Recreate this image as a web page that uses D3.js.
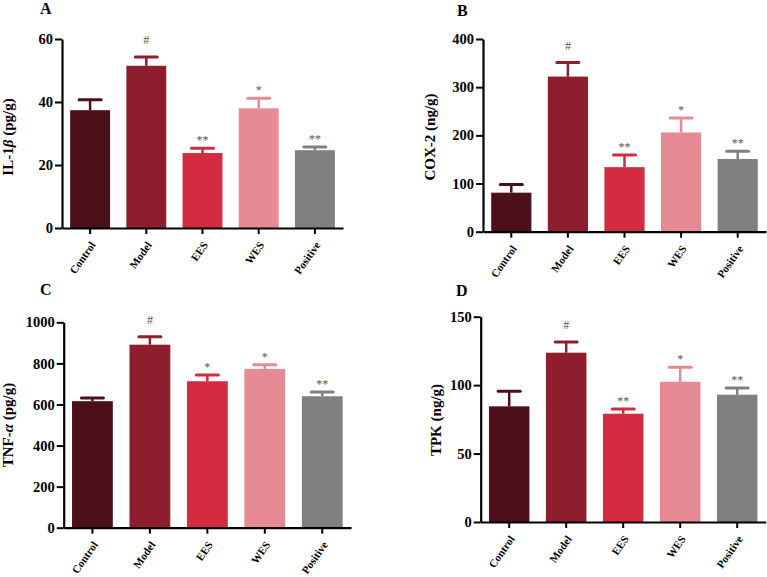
<!DOCTYPE html>
<html>
<head>
<meta charset="utf-8">
<script src="https://cdn.jsdelivr.net/npm/d3@7"></script>
<style>
  body { margin: 0; background: #fff; }
  svg, svg text { font-family: "Liberation Serif", "Times New Roman", Tinos, "DejaVu Serif", serif !important; }
</style>
</head>
<body>
<svg id="chart" width="767" height="577"></svg>
<script>
// groups and colours shared by the four panels
var groups = ["Control", "Model", "EES", "WES", "Positive"];
var colors = ["#4b1019", "#8e1e2e", "#d32b40", "#e68a94", "#808080"];

// A: IL-1beta
var il1bMean = [37.4, 51.5, 23.8, 38.0, 24.7];
var il1bSem = [3.3, 2.8, 1.5, 3.2, 1.0];
var il1bMarks = ["", "#", "**", "*", "**"];
var il1bTicks = [0, 20, 40, 60];

// B: COX-2
var coxMean = [81, 322, 134, 206, 151];
var coxSem = [17, 29, 25, 30, 16];
var coxMarks = ["", "#", "**", "*", "**"];
var coxTicks = [0, 100, 200, 300, 400];

// C: TNF-alpha
var tnfMean = [616, 891, 713, 773, 640];
var tnfSem = [16, 39, 31, 20, 21];
var tnfMarks = ["", "#", "*", "*", "**"];
var tnfTicks = [0, 200, 400, 600, 800, 1000];

// D: TPK
var tpkMean = [84.5, 123.7, 79.1, 102.5, 93];
var tpkSem = [11, 7.8, 3.5, 10.5, 4.9];
var tpkMarks = ["", "#", "**", "*", "**"];
var tpkTicks = [0, 50, 100, 150];

var panels = [
  {letter: "A", mean: il1bMean, sem: il1bSem, marks: il1bMarks, ticks: il1bTicks,
   title: ["IL-1", "β", " (pg/g)"],
   lx: 40, ly: 14, left: 62, right: 343, top: 39, bottom: 228, tx: 13, ty: 137},
  {letter: "B", mean: coxMean, sem: coxSem, marks: coxMarks, ticks: coxTicks,
   title: ["COX-2 (ng/g)"],
   lx: 457, ly: 16, left: 483, right: 766, top: 39, bottom: 231.7, tx: 435, ty: 137},
  {letter: "C", mean: tnfMean, sem: tnfSem, marks: tnfMarks, ticks: tnfTicks,
   title: ["TNF-", "α", " (pg/g)"],
   lx: 40, ly: 295, left: 63.7, right: 351, top: 322.3, bottom: 527.7, tx: 13, ty: 425},
  {letter: "D", mean: tpkMean, sem: tpkSem, marks: tpkMarks, ticks: tpkTicks,
   title: ["TPK (ng/g)"],
   lx: 456, ly: 296, left: 480.7, right: 765.7, top: 316.7, bottom: 522, tx: 441, ty: 420}
];

var svg = d3.select("#chart");

panels.forEach(function (p) {
  var g = svg.append("g");

  var x = d3.scaleBand()
    .domain(groups)
    .range([p.left, p.right])
    .paddingInner(0.29)
    .paddingOuter(0.145);

  var y = d3.scaleLinear()
    .domain([0, d3.max(p.ticks)])
    .range([p.bottom, p.top]);

  var rows = groups.map(function (k, i) {
    return {key: k, mean: p.mean[i], sem: p.sem[i], mark: p.marks[i], color: colors[i]};
  });

  // bars
  g.selectAll("rect.bar")
    .data(rows)
    .enter().append("rect")
    .attr("class", "bar")
    .attr("x", d => x(d.key))
    .attr("y", d => y(d.mean))
    .attr("width", x.bandwidth())
    .attr("height", d => y(0) - y(d.mean))
    .attr("fill", d => d.color);

  // upper error bars
  var err = g.selectAll("g.err")
    .data(rows)
    .enter().append("g")
    .attr("class", "err");
  err.append("line")
    .attr("x1", d => x(d.key) + x.bandwidth() / 2)
    .attr("x2", d => x(d.key) + x.bandwidth() / 2)
    .attr("y1", d => y(d.mean))
    .attr("y2", d => y(d.mean + d.sem))
    .attr("stroke", d => d.color)
    .attr("stroke-width", 2.5);
  err.append("line")
    .attr("x1", d => x(d.key) + x.bandwidth() / 2 - 11)
    .attr("x2", d => x(d.key) + x.bandwidth() / 2 + 11)
    .attr("y1", d => y(d.mean + d.sem))
    .attr("y2", d => y(d.mean + d.sem))
    .attr("stroke", d => d.color)
    .attr("stroke-width", 3)
    .attr("stroke-linecap", "round");

  // significance marks
  g.selectAll("text.mark")
    .data(rows.filter(d => d.mark))
    .enter().append("text")
    .attr("class", "mark")
    .attr("x", d => x(d.key) + x.bandwidth() / 2)
    .attr("y", d => y(d.mean + d.sem) - (d.mark == "#" ? 13 : 4))
    .attr("text-anchor", "middle")
    .attr("font-size", 12)
    .attr("fill", "#555")
    .text(d => d.mark);

  // y axis
  var yAxis = g.append("g")
    .attr("transform", "translate(" + p.left + ",0)")
    .call(d3.axisLeft(y).tickValues(p.ticks).tickFormat(d3.format("d"))
      .tickSize(7).tickSizeOuter(0).tickPadding(2));
  yAxis.select(".domain").attr("stroke-width", 2.2);
  yAxis.selectAll(".tick line").attr("stroke-width", 2);
  yAxis.selectAll("text")
    .attr("font-weight", "bold")
    .attr("font-size", 14.5)
    .attr("fill", "#000");

  // x axis
  var xAxis = g.append("g")
    .attr("transform", "translate(0," + p.bottom + ")")
    .call(d3.axisBottom(x).tickSize(6).tickSizeOuter(0));
  xAxis.select(".domain").attr("stroke-width", 2.2);
  xAxis.selectAll(".tick line").attr("stroke-width", 2);
  xAxis.selectAll("text")
    .attr("font-weight", "bold")
    .attr("font-size", 11)
    .attr("fill", "#000")
    .attr("text-anchor", "end")
    .attr("y", 0)
    .attr("dy", 0)
    .attr("transform", "translate(6,17) rotate(-55)");

  // y title
  var t = g.append("text")
    .attr("transform", "translate(" + p.tx + "," + p.ty + ") rotate(-90)")
    .attr("text-anchor", "middle")
    .attr("font-weight", "bold")
    .attr("font-size", 15);
  p.title.forEach(function (s, i) {
    t.append("tspan")
      .attr("font-style", (s == "β" || s == "α") ? "italic" : null)
      .text(s);
  });

  // panel letter
  g.append("text")
    .attr("x", p.lx)
    .attr("y", p.ly)
    .attr("font-weight", "bold")
    .attr("font-size", 16)
    .text(p.letter);
});
</script>
</body>
</html>
